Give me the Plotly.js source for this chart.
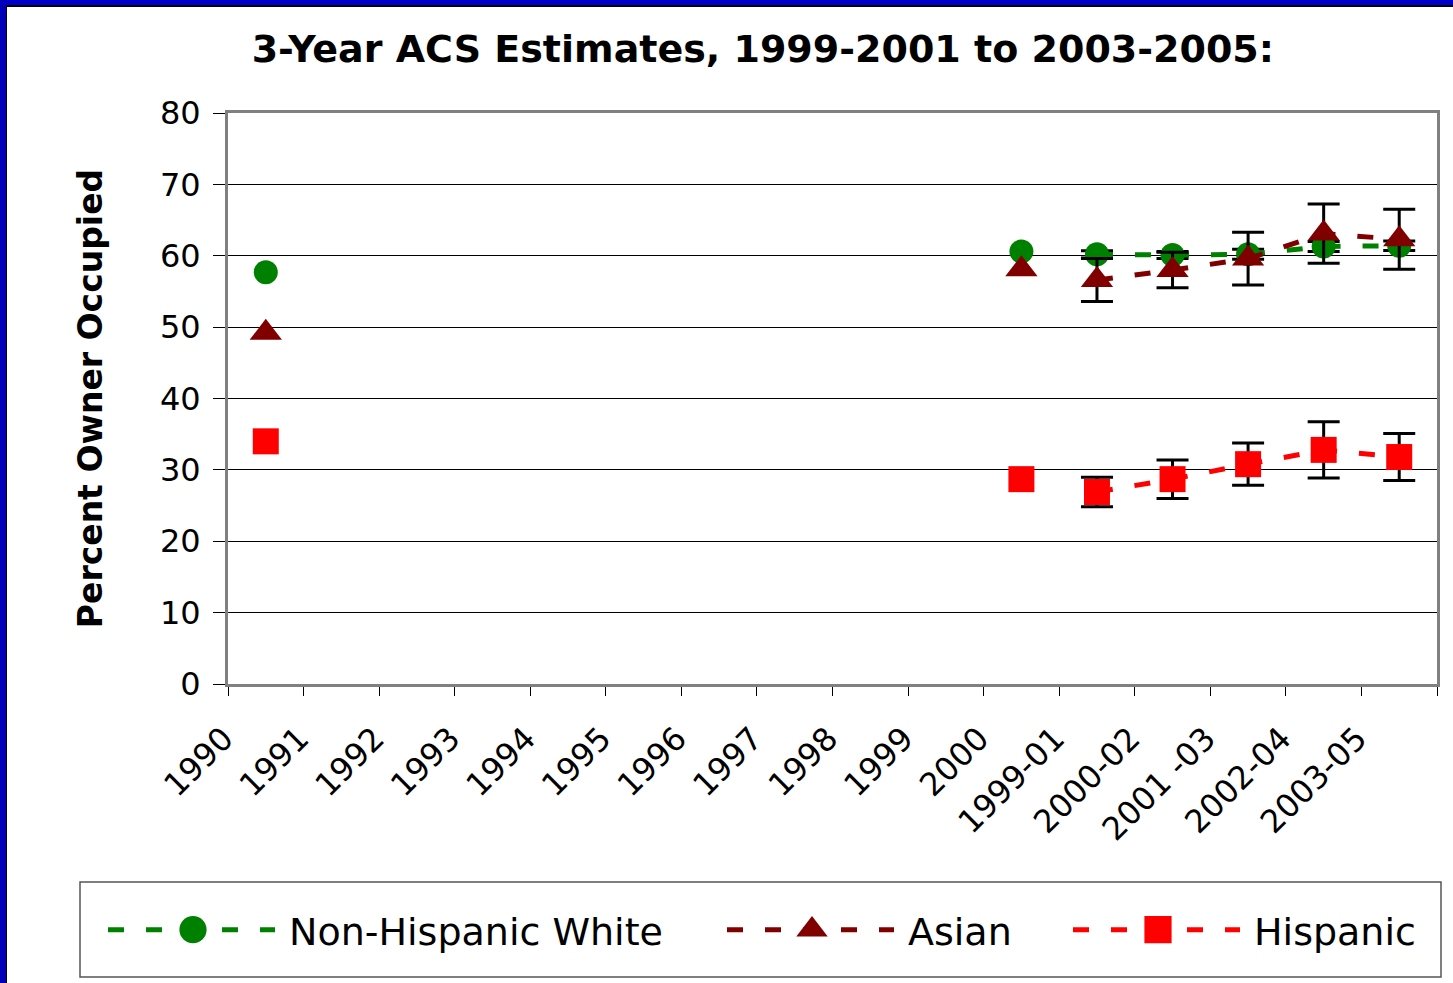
<!DOCTYPE html>
<html>
<head>
<meta charset="utf-8">
<script src="https://cdn.plot.ly/plotly-3.0.1.min.js"></script>
<style>
  html, body { margin:0; padding:0; background:#fff; }
  #wrap { position:relative; width:1453px; height:983px; overflow:hidden; }
  #chart { position:absolute; left:0; top:0; width:1453px; height:983px; }
  #bTop { position:absolute; left:0; top:0; width:1453px; height:5px; background:#0000CC; }
  #bTopLine { position:absolute; left:6px; top:5px; width:1447px; height:2px; background:#000; }
  #bLeft { position:absolute; left:0; top:0; width:6px; height:983px; background:#0000B8; }
  #bLeftLine { position:absolute; left:6px; top:5px; width:1px; height:978px; background:#000; }
</style>
</head>
<body>
<div id="wrap">
  <div id="chart"></div>
  <div id="bTop"></div><div id="bTopLine"></div>
  <div id="bLeft"></div><div id="bLeftLine"></div>
</div>
<script>
// ---- data ----
var categories = ['1990','1991','1992','1993','1994','1995','1996','1997','1998','1999','2000',
                  '1999-01','2000-02','2001 -03','2002-04','2003-05'];
var censusYears = ['1990','2000'];
var acsPeriods  = ['1999-01','2000-02','2001 -03','2002-04','2003-05'];

var whiteCensus = [57.7, 60.6];
var asianCensus = [49.2, 58.1];
var hispCensus  = [34.0, 28.7];

var whiteAcs = [60.2, 60.1, 60.2, 61.3, 61.4];
var whiteMoe = [0.5, 0.5, 0.7, 0.7, 0.65];
var asianAcs = [56.6, 58.0, 59.6, 63.1, 62.3];
var asianMoe = [3.0, 2.5, 3.7, 4.15, 4.2];
var hispAcs  = [26.9, 28.7, 30.8, 32.8, 31.8];
var hispMoe  = [2.05, 2.7, 2.95, 3.95, 3.3];

var seriesNames = ['Non-Hispanic White', 'Asian', 'Hispanic'];
var colors  = ['#008000', '#800000', '#FF0000'];
var symbols = ['circle', 'triangle-up', 'square'];
var sizes   = [24, 28, 26];
var legendIds = ['legend', 'legend2', 'legend3'];
var legendLeftPx = [103, 722, 1068];

var censusVals = [whiteCensus, asianCensus, hispCensus];
var acsVals = [whiteAcs, asianAcs, hispAcs];
var acsMoe  = [whiteMoe, asianMoe, hispMoe];

var FONT = '"DejaVu Sans", "Liberation Sans", Arial, sans-serif';

var data = [];
for (var i = 0; i < 3; i++) {
  data.push({
    type:'scatter', mode:'markers', x:censusYears, y:censusVals[i],
    name:seriesNames[i], showlegend:false, hoverinfo:'x+y',
    marker:{symbol:symbols[i], size:sizes[i], color:colors[i], line:{width:0}}
  });
}
for (var j = 0; j < 3; j++) {
  data.push({
    type:'scatter', mode:'lines+markers', x:acsPeriods, y:acsVals[j],
    name:seriesNames[j], showlegend:true, legend:legendIds[j],
    line:{color:colors[j], width:5, dash:'16px,22px'},
    marker:{symbol:symbols[j], size:sizes[j], color:colors[j], line:{width:0}},
    error_y:{type:'data', array:acsMoe[j], visible:true, color:'black', thickness:3, width:16}
  });
}

// plot area in px: x 228..1437, y 113..684
function px2paperX(px) { return (px - 228) / 1209; }
function px2paperY(py) { return (684 - py) / 571; }

var layout = {
  width:1453, height:983,
  margin:{l:228, r:16, t:113, b:299, pad:0},
  paper_bgcolor:'white', plot_bgcolor:'white',
  font:{family:FONT, color:'black'},
  title:{
    text:'<b>3-Year ACS Estimates, 1999-2001 to 2003-2005:</b>',
    font:{size:38, color:'black', family:FONT},
    x:0.525, xref:'container', xanchor:'center',
    y:1 - 49/983, yref:'container', yanchor:'middle'
  },
  xaxis:{
    type:'category', categoryorder:'array', categoryarray:categories,
    range:[-0.5, 15.5], tickson:'boundaries',
    ticks:'outside', ticklen:9, tickwidth:1, tickcolor:'black',
    showline:true, linecolor:'#808080', linewidth:3, mirror:true,
    showgrid:false, zeroline:false,
    tickangle:-45, tickfont:{size:32, color:'black'},
    ticklabelshift:-42, ticklabelstandoff:20,
    automargin:false
  },
  yaxis:{
    range:[0, 80], tick0:0, dtick:10,
    ticks:'outside', ticklen:12, tickwidth:1, tickcolor:'black',
    showline:true, linecolor:'#808080', linewidth:3, mirror:true,
    showgrid:true, gridcolor:'black', gridwidth:1, zeroline:false,
    tickfont:{size:32, color:'black'}, ticklabelstandoff:6,
    title:{text:'<b>Percent Owner Occupied</b>', font:{size:33, color:'black'}, standoff:48},
    automargin:false
  },
  shapes:[{
    type:'rect', xref:'paper', yref:'paper', layer:'below',
    x0:px2paperX(80), x1:px2paperX(1441), y0:px2paperY(977), y1:px2paperY(882),
    line:{color:'#555', width:1.5}, fillcolor:'white'
  }],
  showlegend:true
};
for (var k = 0; k < 3; k++) {
  layout[legendIds[k]] = {
    orientation:'h', x:px2paperX(legendLeftPx[k]), xanchor:'left',
    y:px2paperY(930), yanchor:'middle',
    borderwidth:0, bgcolor:'rgba(0,0,0,0)',
    font:{size:38, color:'black', family:FONT}, itemwidth:176,
    itemclick:false, itemdoubleclick:false
  };
}

var gd = document.getElementById('chart');
Plotly.newPlot(gd, data, layout, {staticPlot:true, displayModeBar:false}).then(function(){
  var items = gd.querySelectorAll('.infolayer .traces');
  items.forEach(function(t){
    var p = t.querySelector('.legendlines path');
    if (p) p.setAttribute('d', 'M5,0h167');
    t.querySelectorAll('.legendpoints path.scatterpts').forEach(function(pt){
      pt.setAttribute('transform', 'translate(90,0) scale(1.7)');
    });
  });
});
</script>
</body>
</html>
